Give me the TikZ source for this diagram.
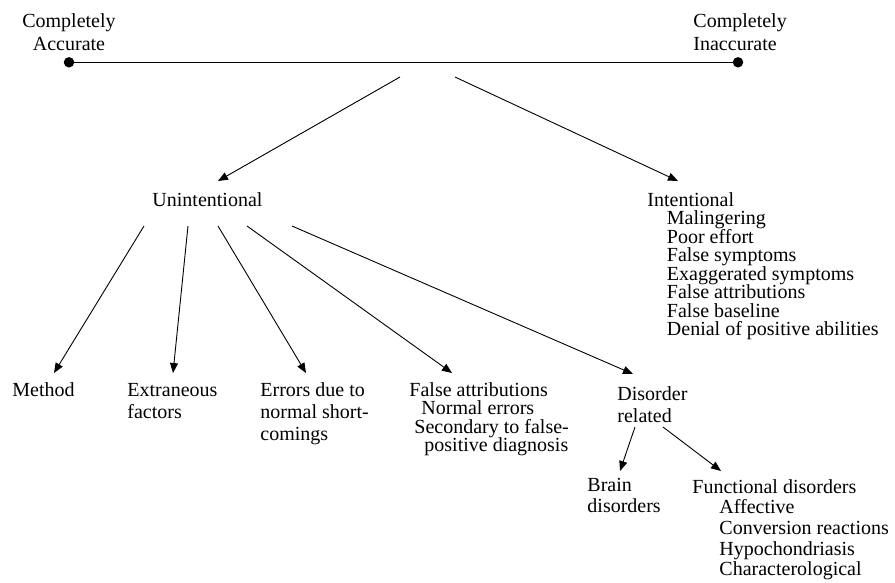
\documentclass[tikz,border=0pt]{standalone}
\usepackage{fontspec}
\setmainfont{Liberation Serif}
\usetikzlibrary{arrows.meta}
\setlength{\lineskiplimit}{-30pt}
\newcommand{\lblfont}[1]{\fontsize{20pt}{#1pt}\selectfont}
% labels are placed by the baseline of their last line
\tikzset{
  lbl/.style={inner sep=0pt, anchor=base west, align=left, font=\lblfont{#1}},
  lbl/.default=22,
  arr/.style={-{Triangle[length=10pt,width=8pt]}},
  dot/.style={circle, fill, inner sep=0pt, minimum size=10.5pt}
}
\begin{document}
\begin{tikzpicture}[x=1pt, y=-1pt, line width=0.9pt]
\useasboundingbox (0,0) rectangle (895,582);

% accuracy scale
\node[lbl=22.7, align=center, anchor=base] (acc) at (69,50) {Completely\\Accurate};
\node[lbl=22.7] (inacc) at (693,50) {Completely\\Inaccurate};
\node[dot] (d1) at (69,62.3) {};
\node[dot] (d2) at (738,62.3) {};
\draw (d1.center) -- (d2.center);

% main branches
\node[lbl] (unint) at (152,206) {Unintentional};
\node[lbl=18.5] (int) at (647,335.5) {Intentional\\
  \hspace*{19.5pt}Malingering\\
  \hspace*{19.5pt}Poor effort\\
  \hspace*{19.5pt}False symptoms\\
  \hspace*{19.5pt}Exaggerated symptoms\\
  \hspace*{19.5pt}False attributions\\
  \hspace*{19.5pt}False baseline\\
  \hspace*{19.5pt}Denial of positive abilities};

\coordinate (s1) at (400,77);
\coordinate (s2) at (455,77);
\coordinate (unint-in) at (218,181);
\coordinate (int-in) at (678,181);
\draw[arr] (s1) -- (unint-in);
\draw[arr] (s2) -- (int-in);

% unintentional categories
\node[lbl] (method) at (12,396) {Method};
\node[lbl=22.5] (extr) at (127,418.5) {Extraneous\\factors};
\node[lbl=22] (errs) at (260,440) {Errors due to\\normal short-\\comings};
\node[lbl=18.5] (fattr) at (409,451.5) {False attributions\\
  \hspace*{12pt}Normal errors\\
  \hspace*{5pt}Secondary to false-\\
  \hspace*{15pt}positive diagnosis};
\node[lbl=22] (disord) at (617,422.7) {Disorder\\related};

\coordinate (u1) at (144,226);
\coordinate (u2) at (188,226);
\coordinate (u3) at (218,226);
\coordinate (u4) at (247,226);
\coordinate (u5) at (292,226);
\coordinate (method-in) at (54,373);
\coordinate (extr-in) at (173,373);
\coordinate (errs-in) at (306,373);
\coordinate (fattr-in) at (452,373);
\coordinate (disord-in) at (633,374);
\draw[arr] (u1) -- (method-in);
\draw[arr] (u2) -- (extr-in);
\draw[arr] (u3) -- (errs-in);
\draw[arr] (u4) -- (fattr-in);
\draw[arr] (u5) -- (disord-in);

% disorder related subdivisions
\node[lbl=21.7] (brain) at (587,512.7) {Brain\\disorders};
\node[lbl=20.7] (func) at (692,575.8) {Functional disorders\\
  \hspace*{27pt}Affective\\
  \hspace*{27pt}Conversion reactions\\
  \hspace*{27pt}Hypochondriasis\\
  \hspace*{27pt}Characterological};

\coordinate (d-out1) at (635,427);
\coordinate (d-out2) at (663,427);
\coordinate (brain-in) at (620,471);
\coordinate (func-in) at (721,471);
\draw[arr] (d-out1) -- (brain-in);
\draw[arr] (d-out2) -- (func-in);
\end{tikzpicture}
\end{document}
